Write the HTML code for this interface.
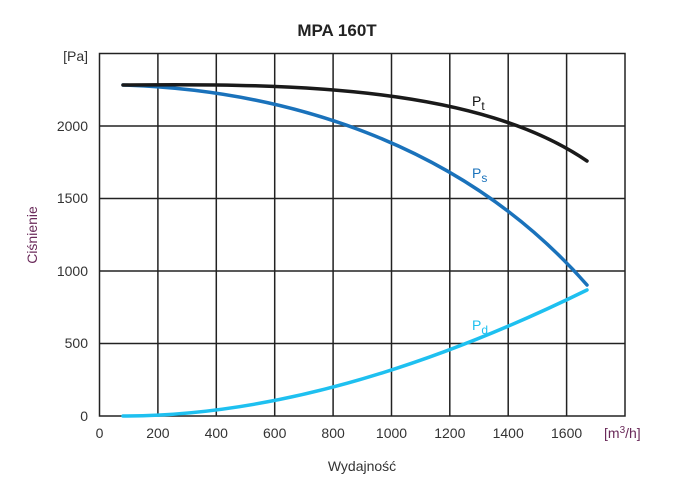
<!DOCTYPE html>
<html><head><style>body{margin:0;background:#fff}</style></head><body>
<svg width="674" height="482" xmlns="http://www.w3.org/2000/svg" font-family="Liberation Sans, sans-serif">
<text x="337" y="36" text-anchor="middle" font-size="17" fill="#222" font-weight="bold">MPA 160T</text>
<g stroke="#222" stroke-width="1.5" fill="none">
<rect x="99.5" y="53.5" width="525.5" height="362.5"/>
<path d="M157.9 53.5V416M216.3 53.5V416M274.7 53.5V416M333.1 53.5V416M391.5 53.5V416M449.8 53.5V416M508.2 53.5V416M566.6 53.5V416M99.5 126H625M99.5 198.5H625M99.5 271H625M99.5 343.5H625"/>
</g>
<g font-size="14" fill="#333" text-anchor="end">
<text x="88" y="61">[Pa]</text><text x="88" y="131">2000</text><text x="88" y="203">1500</text><text x="88" y="276">1000</text><text x="88" y="348">500</text><text x="88" y="421">0</text>
</g>
<g font-size="14" fill="#333" text-anchor="middle">
<text x="99.5" y="438">0</text><text x="157.9" y="438">200</text><text x="216.3" y="438">400</text><text x="274.7" y="438">600</text><text x="333.1" y="438">800</text><text x="391.5" y="438">1000</text><text x="449.8" y="438">1200</text><text x="508.2" y="438">1400</text><text x="566.6" y="438">1600</text>
</g>
<text x="604" y="438" font-size="14" fill="#6a2a5a">[m<tspan dy="-5" font-size="10">3</tspan><tspan dy="5">/h]</tspan></text>
<text x="362" y="471" text-anchor="middle" font-size="14" fill="#333">Wydajność</text>
<text transform="translate(37,235) rotate(-90)" text-anchor="middle" font-size="14" fill="#6a2a5a">Ciśnienie</text>
<g fill="none" stroke-width="3.5" stroke-linecap="round">
<path stroke="#1ec0f0" d="M123 416Q330 416 587 290"/>
<path stroke="#1a72bb" d="M123 85C280 90 460 140 587 285"/>
<path stroke="#1a1a1a" d="M123 85C300 83 480 88 587 161"/>
</g>
<text x="472" y="106" font-size="14" fill="#111">P<tspan dy="4" font-size="12">t</tspan></text>
<text x="472" y="178" font-size="14" fill="#1a72bb">P<tspan dy="4" font-size="12">s</tspan></text>
<text x="472" y="330" font-size="14" fill="#1ec0f0">P<tspan dy="4" font-size="12">d</tspan></text>
</svg>
</body></html>
